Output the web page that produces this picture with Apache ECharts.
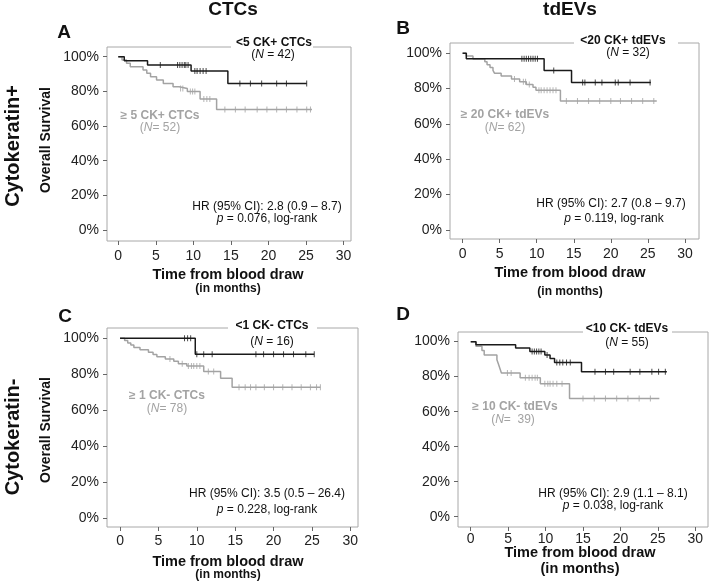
<!DOCTYPE html>
<html>
<head>
<meta charset="utf-8">
<script src="https://cdn.jsdelivr.net/npm/echarts@6/dist/echarts.min.js"></script>
<style>
html,body{margin:0;padding:0;background:#fff;}
#c{width:709px;height:586px;}
</style>
</head>
<body>
<div id="c"></div>
<script>
// ---- tick labels ----
const xTicks = [0, 5, 10, 15, 20, 25, 30];
const yTicks = [0, 20, 40, 60, 80, 100];

// ---- Panel A: CK+ CTCs ----
const aLowT = [0, 0.8, 3.9, 9.7, 14.6, 25.1];
const aLowS = [100, 97.6, 95.2, 91.7, 84.6, 84.6];
const aLowC = [5.6, 7.9, 8.2, 8.5, 8.8, 9.0, 9.3, 10.2, 10.5, 10.9, 11.3, 11.7, 16.2, 17.6, 19.1, 21.1, 22.4, 25.1];
const aHighT = [0, 0.5, 1.1, 1.6, 3.3, 3.8, 4.3, 5.1, 6.0, 7.3, 8.1, 9.2, 10.9, 13.1, 25.8];
const aHighS = [100, 98.1, 96.2, 94.2, 92.3, 90.4, 88.5, 86.5, 84.6, 82.7, 81.7, 79.9, 75.6, 69.5, 69.5];
const aHighC = [8.3, 8.6, 9.6, 9.9, 10.2, 11.4, 11.8, 12.2, 14.2, 15.6, 16.9, 18.5, 19.8, 21.1, 22.4, 23.8, 25.1, 25.6];

// ---- Panel B: CK+ tdEVs ----
const bLowT = [0, 0.5, 11.0, 14.7, 25.4];
const bLowS = [100, 96.9, 90.3, 83.5, 83.5];
const bLowC = [8.0, 8.3, 8.6, 8.9, 9.2, 9.5, 9.8, 10.1, 12.3, 16.2, 16.5, 17.9, 18.8, 20.6, 21.0, 22.6, 25.3];
const bHighT = [0, 0.5, 1.4, 3.0, 3.3, 3.7, 4.1, 4.3, 5.2, 6.6, 7.7, 8.6, 9.5, 9.9, 13.2, 26.2];
const bHighS = [100, 98.4, 96.8, 95.2, 93.5, 91.9, 90.3, 88.7, 87.1, 85.5, 83.9, 82.3, 80.7, 79.0, 73.0, 73.0];
const bHighC = [7.0, 8.2, 8.5, 9.0, 10.3, 10.6, 11.0, 11.4, 11.8, 12.2, 12.6, 14.0, 15.5, 17.0, 18.5, 20.0, 21.3, 22.8, 24.3, 25.8];

// ---- Panel C: CK- CTCs ----
const cLowT = [0, 9.8, 25.3];
const cLowS = [100, 91.1, 91.1];
const cLowC = [8.4, 8.8, 9.2, 10.0, 10.9, 12.0, 17.7, 18.7, 20.0, 21.3, 22.6, 24.2, 25.3];
const cHighT = [0, 0.6, 1.0, 1.4, 1.8, 2.6, 3.7, 4.3, 4.8, 5.9, 7.0, 7.6, 8.7, 10.9, 13.1, 14.6, 26.1];
const cHighS = [100, 98.7, 97.4, 96.2, 94.9, 93.6, 92.3, 91.0, 89.7, 88.5, 87.2, 85.9, 84.6, 81.6, 77.8, 72.8, 72.8];
const cHighC = [6.5, 8.1, 8.9, 9.3, 9.6, 10.0, 10.4, 11.5, 12.2, 15.5, 16.3, 17.0, 17.7, 18.8, 20.0, 21.2, 22.4, 23.6, 24.8, 25.6, 26.1];

// ---- Panel D: CK- tdEVs ----
const dLowT = [0, 0.7, 6.0, 7.9, 9.9, 10.6, 11.2, 14.8, 26.2];
const dLowS = [100, 98.2, 96.3, 94.4, 92.4, 90.3, 88.1, 82.8, 82.8];
const dLowC = [8.2, 8.5, 8.8, 9.1, 9.4, 10.2, 11.5, 11.9, 12.3, 12.8, 13.3, 16.6, 18.0, 19.1, 21.3, 22.6, 24.2, 25.1, 26.0];
const dHighT = [0, 0.7, 1.5, 1.8, 3.5, 3.7, 3.9, 4.1, 6.6, 9.3, 13.2, 25.2];
const dHighS = [100, 97.4, 94.9, 92.3, 89.7, 87.2, 84.6, 82.1, 79.4, 76.0, 67.5, 67.5];
const dHighC = [4.9, 5.4, 7.3, 7.8, 8.2, 8.6, 8.9, 9.9, 10.3, 10.6, 11.0, 11.5, 12.2, 15.0, 16.5, 18.0, 19.5, 21.0, 22.5, 24.0];

const FONT = "'Liberation Sans', Arial, sans-serif";
const BLACK = '#1a1a1a';
const GRAY = '#a3a3a3';

function survAt(T, S, t) {
  let s = S[0];
  for (let i = 0; i < T.length; i++) if (T[i] <= t) s = S[i];
  return s;
}
function pairs(T, S) { return T.map((t, i) => [t, S[i]]); }
function cens(T, S, C) { return C.map(t => [t, survAt(T, S, t)]); }

const panels = [
  {grid: {left: 107, top: 47, width: 244, height: 194}, x: [-1.5, 31], y: [-6.3, 105.6], m: 8,
   low: [aLowT, aLowS, aLowC], high: [aHighT, aHighS, aHighC]},
  {grid: {left: 450, top: 43, width: 249, height: 196}, x: [-1.7, 31.9], y: [-5.1, 105.8], m: 8,
   low: [bLowT, bLowS, bLowC], high: [bHighT, bHighS, bHighC]},
  {grid: {left: 107, top: 328, width: 251, height: 199}, x: [-1.7, 31.0], y: [-4.8, 105.7], m: 7,
   low: [cLowT, cLowS, cLowC], high: [cHighT, cHighS, cHighC]},
  {grid: {left: 458, top: 332, width: 250, height: 195}, x: [-1.7, 31.7], y: [-5.9, 105.5], m: 5,
   low: [dLowT, dLowS, dLowC], high: [dHighT, dHighS, dHighC]}
];

const grids = [], xAxes = [], yAxes = [], series = [];
panels.forEach((p, i) => {
  grids.push(Object.assign({show: true, borderColor: '#a8a8a8', borderWidth: 1, backgroundColor: 'transparent'}, p.grid));
  xAxes.push({
    type: 'value', gridIndex: i, min: p.x[0], max: p.x[1],
    axisLine: {show: false, onZero: false}, splitLine: {show: false},
    axisTick: {show: true, customValues: xTicks, length: 4, lineStyle: {color: '#666'}},
    axisLabel: {customValues: xTicks, fontSize: 14, color: '#222', margin: p.m, fontFamily: FONT}
  });
  yAxes.push({
    type: 'value', gridIndex: i, min: p.y[0], max: p.y[1],
    axisLine: {show: false, onZero: false}, splitLine: {show: false},
    axisTick: {show: true, customValues: yTicks, length: 4, lineStyle: {color: '#666'}},
    axisLabel: {customValues: yTicks, fontSize: 14, color: '#222', margin: 8, fontFamily: FONT,
                formatter: v => v + '%'}
  });
  [[p.high, GRAY], [p.low, BLACK]].forEach(([d, col]) => {
    series.push({
      type: 'line', xAxisIndex: i, yAxisIndex: i, step: 'end', showSymbol: false,
      data: pairs(d[0], d[1]), lineStyle: {color: col, width: 1.5}, animation: false, silent: true
    });
    series.push({
      type: 'scatter', xAxisIndex: i, yAxisIndex: i, symbol: 'rect', symbolSize: [1, 6],
      data: cens(d[0], d[1], d[2]), itemStyle: {color: col}, animation: false, silent: true
    });
  });
});

const rich = {
  i: {fontStyle: 'italic', fontFamily: FONT},
  gi: {fontStyle: 'italic', fontFamily: FONT, color: GRAY}
};
function txt(x, y, text, o) {
  o = o || {};
  return {
    type: 'text', x: x, y: y, z: 101, rotation: o.rot || 0,
    style: {
      text: text, fill: o.color || '#111', fontSize: o.size || 12, fontWeight: o.bold ? 'bold' : 'normal',
      fontStyle: o.italic ? 'italic' : 'normal', fontFamily: FONT,
      align: 'center', verticalAlign: 'middle', rich: rich
    }
  };
}
function gap(x1, x2, y) {
  return {type: 'rect', z: 100, shape: {x: x1, y: y - 3, width: x2 - x1, height: 6}, style: {fill: '#fff'}};
}

const g = [
  // column headers and panel letters
  txt(233, 10, 'CTCs', {size: 19, bold: true}),
  txt(570, 10, 'tdEVs', {size: 19, bold: true}),
  txt(64, 33, 'A', {size: 19, bold: true}),
  txt(403, 29, 'B', {size: 19, bold: true}),
  txt(65, 317, 'C', {size: 19, bold: true}),
  txt(403, 315, 'D', {size: 19, bold: true}),
  // row labels
  txt(13, 146, 'Cytokeratin+', {size: 20, bold: true, rot: Math.PI / 2}),
  txt(13, 437, 'Cytokeratin-', {size: 20, bold: true, rot: Math.PI / 2}),
  txt(46, 140, 'Overall Survival', {size: 14, bold: true, rot: Math.PI / 2}),
  txt(46, 430, 'Overall Survival', {size: 14, bold: true, rot: Math.PI / 2}),

  // Panel A
  gap(231, 313, 47),
  txt(274, 43, '<5 CK+ CTCs', {bold: true}),
  txt(273, 55, '({i|N} = 42)'),
  txt(160, 116, '≥ 5 CK+ CTCs', {bold: true, color: GRAY}),
  txt(160, 128, '({gi|N}= 52)', {color: GRAY}),
  txt(267, 207, 'HR (95% CI): 2.8 (0.9 – 8.7)'),
  txt(267, 219, '{i|p} = 0.076, log-rank'),
  txt(228, 275, 'Time from blood draw', {size: 14.5, bold: true}),
  txt(228, 289, '(in months)', {size: 12, bold: true}),

  // Panel B
  gap(574, 678, 43),
  txt(623, 41, '<20 CK+ tdEVs', {bold: true}),
  txt(628, 53, '({i|N} = 32)'),
  txt(505, 115, '≥ 20 CK+ tdEVs', {bold: true, color: GRAY}),
  txt(505, 128, '({gi|N}= 62)', {color: GRAY}),
  txt(611, 204, 'HR (95% CI): 2.7 (0.8 – 9.7)'),
  txt(614, 219, '{i|p} = 0.119, log-rank'),
  txt(570, 273, 'Time from blood draw', {size: 14.5, bold: true}),
  txt(570, 292, '(in months)', {size: 12, bold: true}),

  // Panel C
  gap(228, 317, 328),
  txt(272, 326, '<1 CK- CTCs', {bold: true}),
  txt(272, 342, '({i|N} = 16)'),
  txt(167, 396, '≥ 1 CK- CTCs', {bold: true, color: GRAY}),
  txt(167, 409, '({gi|N}= 78)', {color: GRAY}),
  txt(267, 494, 'HR (95% CI): 3.5 (0.5 – 26.4)'),
  txt(267, 510, '{i|p} = 0.228, log-rank'),
  txt(228, 562, 'Time from blood draw', {size: 14.5, bold: true}),
  txt(228, 575, '(in months)', {size: 12, bold: true}),

  // Panel D
  gap(583, 672, 332),
  txt(627, 329, '<10 CK- tdEVs', {bold: true}),
  txt(627, 343, '({i|N} = 55)'),
  txt(515, 407, '≥ 10 CK- tdEVs', {bold: true, color: GRAY}),
  txt(513, 420, '({gi|N}=  39)', {color: GRAY}),
  txt(613, 494, 'HR (95% CI): 2.9 (1.1 – 8.1)'),
  txt(613, 506, '{i|p} = 0.038, log-rank'),
  txt(580, 553, 'Time from blood draw', {size: 14.5, bold: true}),
  txt(580, 569, '(in months)', {size: 14.5, bold: true})
];

const chart = echarts.init(document.getElementById('c'), null, {renderer: 'canvas'});
chart.setOption({
  backgroundColor: '#fff',
  animation: false,
  grid: grids,
  xAxis: xAxes,
  yAxis: yAxes,
  series: series,
  graphic: {elements: g}
});
</script>
</body>
</html>
